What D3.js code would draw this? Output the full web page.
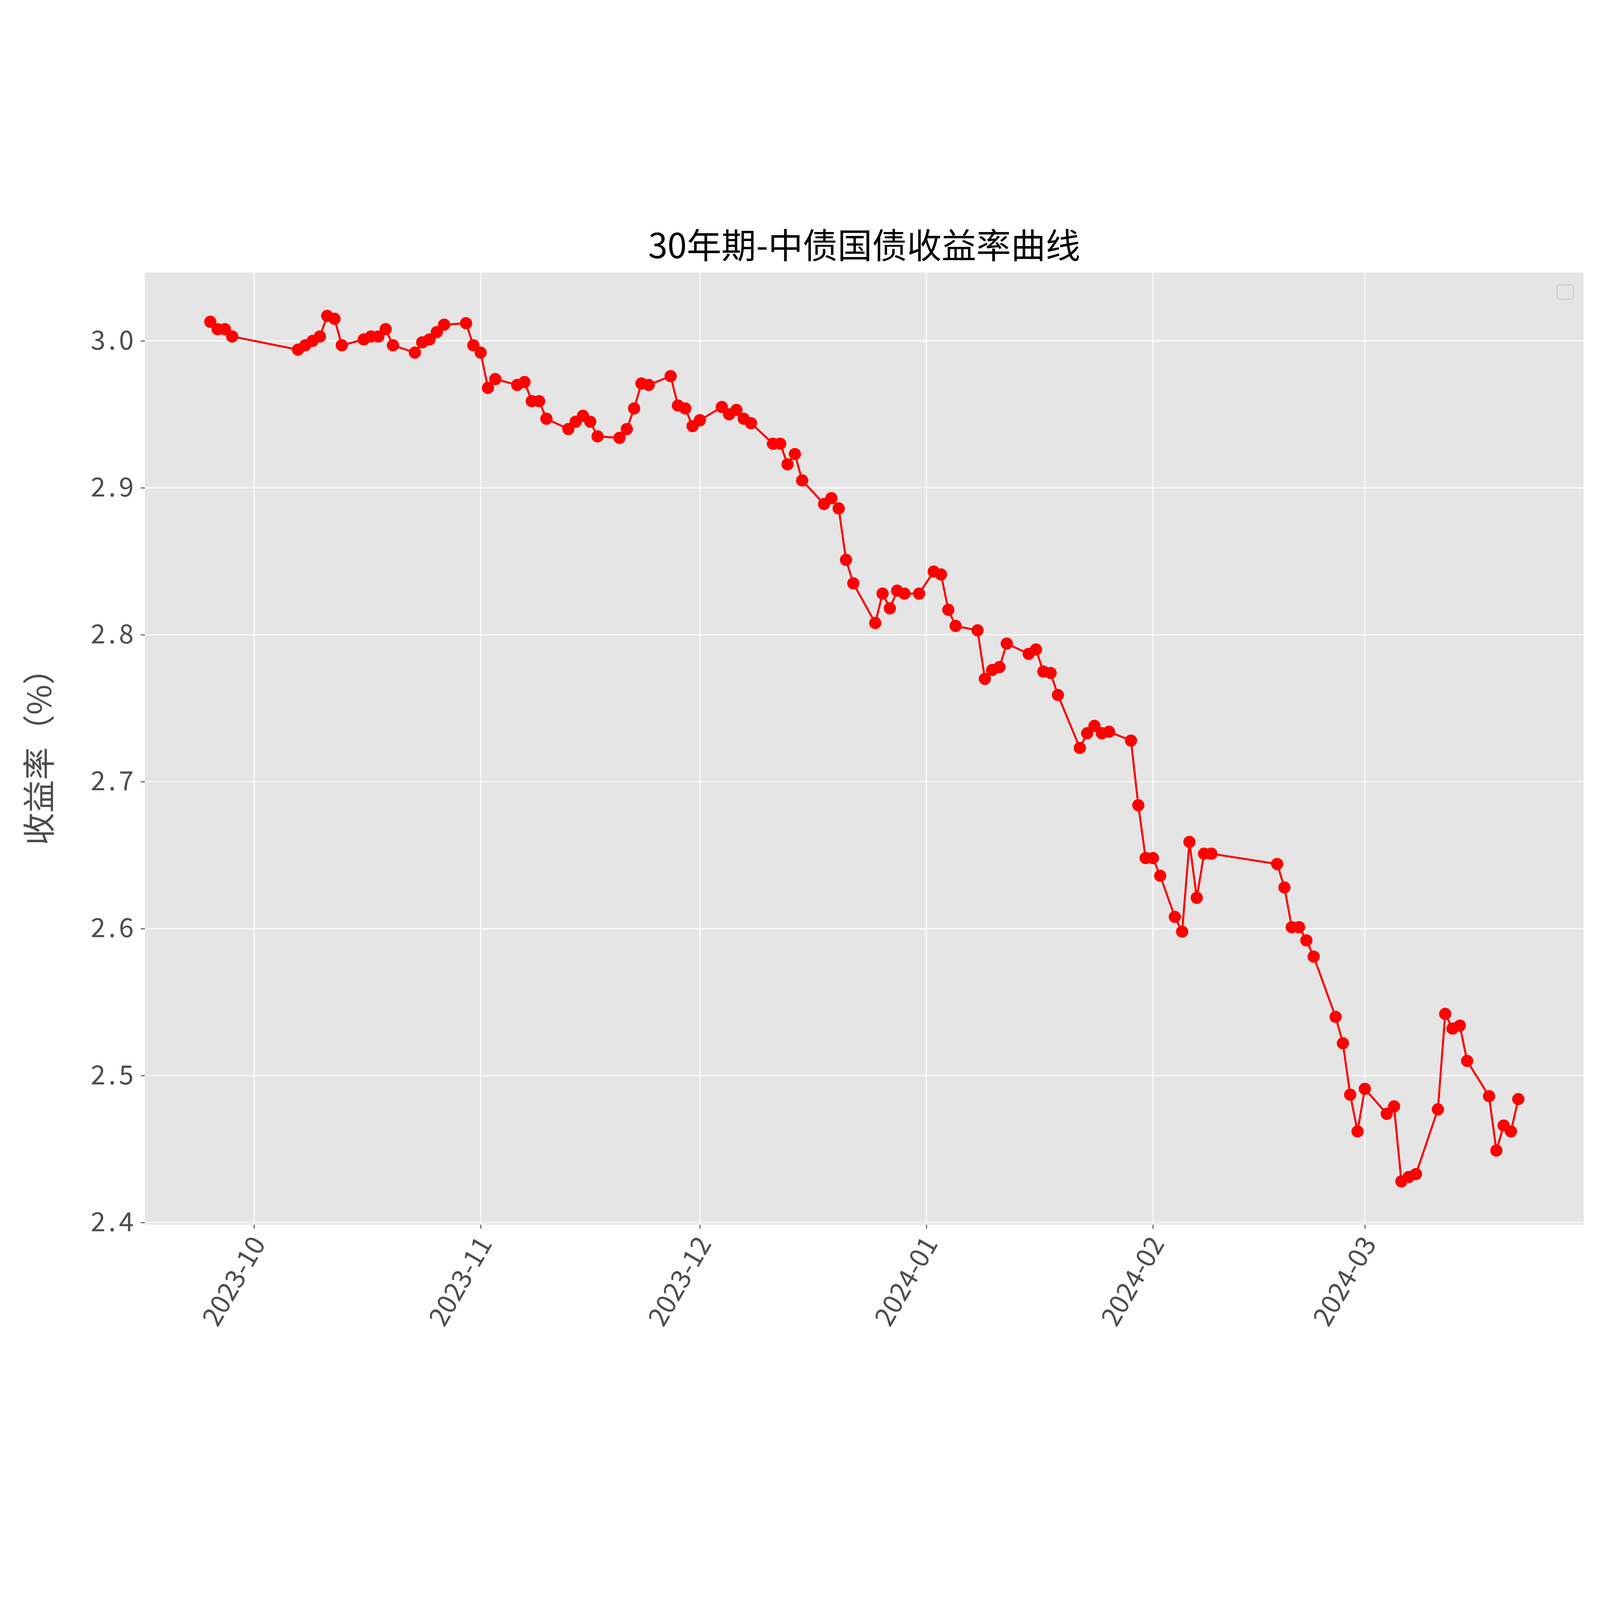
<!DOCTYPE html>
<html><head><meta charset="utf-8">
<script src="https://cdn.jsdelivr.net/npm/d3@7"></script>
<style>html,body{margin:0;padding:0;width:100%;height:100%;overflow:hidden;background:#fff}svg{display:block;width:100vw;height:100vh}</style></head>
<body><svg id="c" viewBox="0 0 6194 4573" preserveAspectRatio="xMidYMid meet"></svg>
<script>
const dates = ["2023-09-25","2023-09-26","2023-09-27","2023-09-28","2023-10-07","2023-10-08","2023-10-09","2023-10-10","2023-10-11","2023-10-12","2023-10-13","2023-10-16","2023-10-17","2023-10-18","2023-10-19","2023-10-20","2023-10-23","2023-10-24","2023-10-25","2023-10-26","2023-10-27","2023-10-30","2023-10-31","2023-11-01","2023-11-02","2023-11-03","2023-11-06","2023-11-07","2023-11-08","2023-11-09","2023-11-10","2023-11-13","2023-11-14","2023-11-15","2023-11-16","2023-11-17","2023-11-20","2023-11-21","2023-11-22","2023-11-23","2023-11-24","2023-11-27","2023-11-28","2023-11-29","2023-11-30","2023-12-01","2023-12-04","2023-12-05","2023-12-06","2023-12-07","2023-12-08","2023-12-11","2023-12-12","2023-12-13","2023-12-14","2023-12-15","2023-12-18","2023-12-19","2023-12-20","2023-12-21","2023-12-22","2023-12-25","2023-12-26","2023-12-27","2023-12-28","2023-12-29","2023-12-31","2024-01-02","2024-01-03","2024-01-04","2024-01-05","2024-01-08","2024-01-09","2024-01-10","2024-01-11","2024-01-12","2024-01-15","2024-01-16","2024-01-17","2024-01-18","2024-01-19","2024-01-22","2024-01-23","2024-01-24","2024-01-25","2024-01-26","2024-01-29","2024-01-30","2024-01-31","2024-02-01","2024-02-02","2024-02-04","2024-02-05","2024-02-06","2024-02-07","2024-02-08","2024-02-09","2024-02-18","2024-02-19","2024-02-20","2024-02-21","2024-02-22","2024-02-23","2024-02-26","2024-02-27","2024-02-28","2024-02-29","2024-03-01","2024-03-04","2024-03-05","2024-03-06","2024-03-07","2024-03-08","2024-03-11","2024-03-12","2024-03-13","2024-03-14","2024-03-15","2024-03-18","2024-03-19","2024-03-20","2024-03-21","2024-03-22"];
const yields = [3.013,3.008,3.008,3.003,2.994,2.997,3.000,3.003,3.017,3.015,2.997,3.001,3.003,3.003,3.008,2.997,2.992,2.999,3.001,3.006,3.011,3.012,2.997,2.992,2.968,2.974,2.970,2.972,2.959,2.959,2.947,2.940,2.945,2.949,2.945,2.935,2.934,2.940,2.954,2.971,2.970,2.976,2.956,2.954,2.942,2.946,2.955,2.950,2.953,2.947,2.944,2.930,2.930,2.916,2.923,2.905,2.889,2.893,2.886,2.851,2.835,2.808,2.828,2.818,2.830,2.828,2.828,2.843,2.841,2.817,2.806,2.803,2.770,2.776,2.778,2.794,2.787,2.790,2.775,2.774,2.759,2.723,2.733,2.738,2.733,2.734,2.728,2.684,2.648,2.648,2.636,2.608,2.598,2.659,2.621,2.651,2.651,2.644,2.628,2.601,2.601,2.592,2.581,2.540,2.522,2.487,2.462,2.491,2.474,2.479,2.428,2.431,2.433,2.477,2.542,2.532,2.534,2.510,2.486,2.449,2.466,2.462,2.484];
const yTicks = [2.4,2.5,2.6,2.7,2.8,2.9,3.0];
const xTicks = ["2023-10-01","2023-11-01","2023-12-01","2024-01-01","2024-02-01","2024-03-01"];
const title = "30年期-中债国债收益率曲线";
const yLabel = "收益率（%）";

const s = 6194/1568;
const svg = d3.select("#c");
const L=142*s, R=1552*s, T=62*s, B=995*s;
const pd = d3.timeParse("%Y-%m-%d");
const data = dates.map((d,i)=>({d:pd(d),v:yields[i]}));
const xe = d3.extent(data,d=>d.d), xp=(xe[1]-xe[0])*0.05;
const x = d3.scaleTime().domain([new Date(+xe[0]-xp), new Date(+xe[1]+xp)]).range([L,R]);
const ye = d3.extent(yields), yp=(ye[1]-ye[0])*0.05;
const y = d3.scaleLinear().domain([ye[0]-yp, ye[1]+yp]).range([B,T]);
const font = "'Noto Sans CJK SC', sans-serif";

svg.append("rect").attr("x",L).attr("y",T).attr("width",R-L).attr("height",B-T).attr("fill","#e5e5e5");
const g = svg.append("g");
yTicks.forEach(t=>g.append("line").attr("x1",L).attr("x2",R).attr("y1",y(t)).attr("y2",y(t)).attr("stroke","#fff").attr("stroke-width",1.0*s));
xTicks.forEach(t=>g.append("line").attr("y1",T).attr("y2",B).attr("x1",x(pd(t))).attr("x2",x(pd(t))).attr("stroke","#fff").attr("stroke-width",1.0*s));

const ya = svg.append("g").attr("transform",`translate(${L},0)`)
  .call(d3.axisLeft(y).tickValues(yTicks).tickFormat(d3.format(".1f")).tickSize(4*s).tickPadding(4*s));
ya.select(".domain").remove();
ya.selectAll("line").attr("stroke","#555").attr("stroke-width",1*s);
ya.selectAll("text").attr("font-family",font).attr("font-size",26*s).attr("fill","#4d4d4d").attr("letter-spacing",3*s);

const xa = svg.append("g").attr("transform",`translate(0,${B})`)
  .call(d3.axisBottom(x).tickValues(xTicks.map(pd)).tickFormat(d3.timeFormat("%Y-%m")).tickSize(4*s).tickPadding(4*s));
xa.select(".domain").remove();
xa.selectAll("line").attr("stroke","#555").attr("stroke-width",1*s);
xa.selectAll("text").attr("font-family",font).attr("font-size",26*s).attr("fill","#4d4d4d")
  .attr("text-anchor","end").attr("dy","0.35em").attr("dx","0").attr("y",0)
  .attr("transform",`translate(${4*s},${14*s}) rotate(-60)`);

const line = d3.line().x(d=>x(d.d)).y(d=>y(d.v));
svg.append("path").datum(data).attr("d",line).attr("fill","none").attr("stroke","#ff0000").attr("stroke-width",2*s);
svg.selectAll("circle.p").data(data).join("circle").attr("cx",d=>x(d.d)).attr("cy",d=>y(d.v)).attr("r",6*s).attr("fill","#ff0000");

svg.append("text").attr("x",(L+R)/2).attr("y",48*s).attr("text-anchor","middle").attr("font-family",font).attr("font-size",34*s).attr("fill","#000").text(title);
svg.append("text").attr("transform",`translate(${50*s},${(T+B)/2}) rotate(-90)`).attr("text-anchor","middle").attr("font-family",font).attr("font-size",32*s).attr("fill","#4d4d4d").text(yLabel);
svg.append("rect").attr("x",1526*s).attr("y",74*s).attr("width",16*s).attr("height",14*s).attr("rx",2*s).attr("fill","#e5e5e5").attr("stroke","#ccc").attr("stroke-width",1*s);
</script></body></html>
